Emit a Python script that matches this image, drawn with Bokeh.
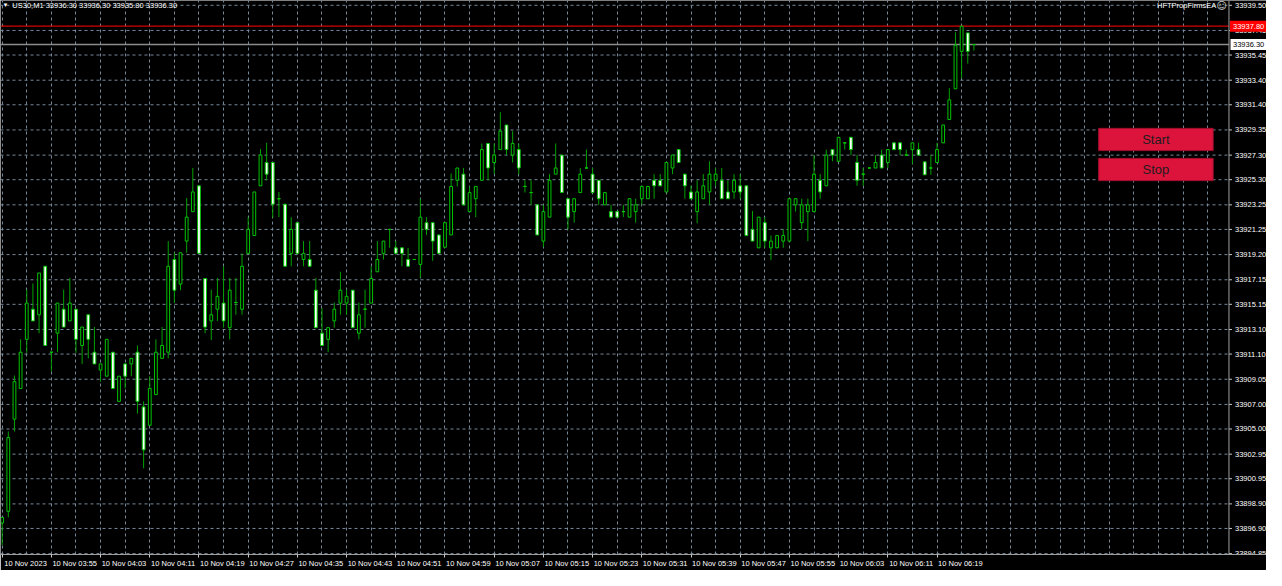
import pandas as pd
from bokeh.plotting import figure
from bokeh.models import (Range1d, FixedTicker, Span, BoxAnnotation, Label, ColumnDataSource)
from bokeh.core.properties import value
from bokeh.embed import file_html
from bokeh.resources import INLINE

# ---------------- data ----------------
symbol = "US30,M1"
start_time = "2023-11-10 03:47"

opens = [
    33897.35, 33898.30, 33905.80, 33908.30, 33912.30, 33914.75, 33914.30, 33918.25, 33911.25, 33912.80,
    33914.75, 33913.80, 33914.75, 33911.80, 33914.30, 33911.25, 33909.80, 33909.30, 33911.25, 33907.25,
    33910.30, 33910.30, 33911.25, 33906.80, 33905.30, 33907.80, 33910.75, 33911.25, 33918.80, 33916.80,
    33920.30, 33922.70, 33924.80, 33917.25, 33913.80, 33914.75, 33915.25, 33913.25, 33915.30, 33914.75,
    33919.30, 33920.75, 33924.80, 33926.70, 33926.70, 33923.75, 33923.30, 33919.30, 33921.80, 33918.80,
    33918.80, 33916.30, 33912.80, 33912.30, 33913.80, 33915.25, 33915.25, 33916.30, 33912.80, 33914.75,
    33915.25, 33917.80, 33919.30, 33921.25, 33919.75, 33919.75, 33918.80, 33918.80, 33918.40, 33921.80,
    33921.80, 33920.80, 33919.80, 33920.80, 33925.25, 33925.75, 33922.70, 33923.75, 33925.25, 33928.25,
    33926.70, 33927.75, 33929.75, 33927.30, 33927.75, 33924.75, 33924.25, 33923.25, 33920.30, 33922.25,
    33925.75, 33927.30, 33923.75, 33922.70, 33924.25, 33926.25, 33925.75, 33925.25, 33923.25, 33922.70,
    33922.70, 33922.70, 33922.25, 33922.70, 33923.75, 33923.75, 33925.25, 33925.25, 33924.30, 33926.25,
    33927.75, 33925.75, 33924.30, 33922.70, 33923.75, 33924.30, 33925.25, 33925.25, 33924.30, 33924.30,
    33924.80, 33924.80, 33921.25, 33919.75, 33921.80, 33919.75, 33919.75, 33920.30, 33920.30, 33923.25,
    33921.80, 33922.70, 33922.70, 33925.25, 33924.80, 33927.75, 33926.80, 33928.30, 33928.75, 33926.70,
    33925.75, 33926.25, 33926.25, 33927.30, 33926.70, 33928.30, 33928.30, 33927.30, 33927.75, 33927.75,
    33926.75, 33926.25, 33926.70, 33928.30, 33930.20, 33932.70, 33935.75, 33937.25, 33936.30,
]
highs = [
    33897.80, 33904.80, 33909.35, 33912.30, 33916.35, 33916.85, 33917.70, 33918.25, 33911.25, 33915.25,
    33916.35, 33917.30, 33914.75, 33913.30, 33914.30, 33913.30, 33910.30, 33912.30, 33911.25, 33909.30,
    33910.30, 33910.75, 33911.80, 33907.25, 33909.30, 33912.30, 33913.30, 33920.30, 33919.35, 33919.35,
    33923.80, 33926.25, 33924.80, 33917.25, 33916.35, 33917.30, 33918.25, 33917.30, 33917.30, 33919.30,
    33922.25, 33924.30, 33927.80, 33928.30, 33926.70, 33924.30, 33923.30, 33922.25, 33921.80, 33920.30,
    33920.30, 33917.30, 33914.85, 33913.25, 33915.30, 33917.80, 33916.35, 33916.30, 33915.30, 33916.35,
    33918.25, 33920.30, 33920.30, 33921.25, 33920.30, 33919.75, 33919.75, 33918.80, 33923.75, 33922.25,
    33921.80, 33920.80, 33921.80, 33925.80, 33926.25, 33926.25, 33924.75, 33924.75, 33928.25, 33928.25,
    33928.25, 33930.80, 33929.75, 33929.25, 33928.25, 33925.25, 33925.25, 33923.25, 33923.25, 33925.75,
    33928.25, 33927.30, 33923.75, 33923.75, 33926.25, 33927.75, 33926.25, 33925.25, 33924.25, 33923.25,
    33922.70, 33923.25, 33923.75, 33923.75, 33924.75, 33924.75, 33925.75, 33925.75, 33926.70, 33927.30,
    33927.75, 33925.75, 33924.80, 33925.25, 33925.75, 33926.80, 33926.25, 33926.25, 33925.25, 33925.75,
    33925.75, 33924.80, 33922.75, 33922.25, 33922.25, 33920.75, 33920.75, 33921.25, 33923.75, 33923.75,
    33923.75, 33923.75, 33927.30, 33925.75, 33927.75, 33927.75, 33928.75, 33928.30, 33928.75, 33927.30,
    33926.25, 33926.25, 33927.30, 33927.75, 33927.75, 33928.30, 33928.30, 33927.75, 33928.30, 33928.30,
    33926.75, 33927.30, 33928.30, 33929.75, 33932.75, 33937.30, 33937.80, 33937.25, 33936.30,
]
lows = [
    33895.55, 33897.80, 33904.80, 33908.30, 33911.20, 33913.80, 33912.80, 33911.80, 33909.70, 33911.25,
    33913.30, 33913.80, 33911.20, 33910.30, 33910.75, 33910.30, 33908.85, 33909.30, 33908.30, 33907.25,
    33908.30, 33909.30, 33906.25, 33901.80, 33905.30, 33907.80, 33910.75, 33910.75, 33915.25, 33916.30,
    33919.35, 33922.70, 33919.30, 33912.80, 33912.25, 33913.80, 33913.25, 33912.30, 33914.30, 33914.30,
    33919.30, 33920.75, 33924.80, 33925.25, 33922.20, 33922.25, 33918.25, 33918.25, 33919.30, 33918.25,
    33918.25, 33913.25, 33911.80, 33911.25, 33913.25, 33914.30, 33914.30, 33913.25, 33912.30, 33913.25,
    33915.25, 33917.80, 33918.80, 33919.75, 33919.30, 33918.25, 33918.25, 33918.80, 33917.30, 33920.80,
    33918.70, 33919.30, 33919.80, 33920.80, 33924.75, 33923.25, 33922.70, 33922.25, 33925.25, 33925.25,
    33925.75, 33927.75, 33927.30, 33926.70, 33925.75, 33924.25, 33923.25, 33920.80, 33919.80, 33922.25,
    33925.75, 33924.25, 33921.25, 33921.80, 33924.25, 33926.25, 33924.25, 33923.25, 33923.25, 33922.25,
    33922.25, 33922.25, 33922.25, 33921.80, 33923.25, 33923.75, 33923.75, 33924.80, 33924.30, 33925.75,
    33926.70, 33923.75, 33923.75, 33921.75, 33923.75, 33923.25, 33924.80, 33923.75, 33923.75, 33923.75,
    33923.75, 33920.75, 33920.30, 33919.75, 33919.75, 33918.75, 33919.75, 33919.75, 33920.30, 33922.70,
    33921.25, 33920.30, 33922.70, 33923.75, 33924.80, 33926.80, 33926.80, 33927.75, 33927.30, 33924.80,
    33924.80, 33926.25, 33926.25, 33926.25, 33926.25, 33927.75, 33927.30, 33927.30, 33926.60, 33927.30,
    33925.70, 33925.70, 33926.70, 33928.30, 33930.20, 33932.70, 33933.55, 33934.75, 33935.80,
]
closes = [
    33897.80, 33904.30, 33908.85, 33911.25, 33915.25, 33913.80, 33917.70, 33911.80, 33911.25, 33915.25,
    33913.30, 33915.25, 33912.30, 33913.30, 33912.30, 33910.30, 33910.30, 33912.30, 33908.30, 33909.30,
    33909.30, 33910.75, 33907.25, 33903.30, 33908.30, 33911.25, 33911.80, 33918.25, 33916.30, 33919.35,
    33922.25, 33924.30, 33919.30, 33913.30, 33914.30, 33915.80, 33913.80, 33916.30, 33915.30, 33918.25,
    33921.25, 33924.30, 33927.30, 33925.75, 33923.30, 33923.75, 33918.25, 33921.25, 33919.30, 33919.30,
    33918.25, 33913.25, 33911.80, 33913.25, 33914.75, 33916.30, 33915.80, 33913.25, 33914.30, 33914.75,
    33917.25, 33918.80, 33920.30, 33921.25, 33919.30, 33919.30, 33918.25, 33918.80, 33922.25, 33921.25,
    33920.30, 33919.30, 33921.80, 33924.75, 33926.25, 33923.25, 33924.25, 33924.75, 33927.75, 33926.25,
    33927.30, 33929.25, 33927.75, 33928.25, 33926.25, 33924.75, 33924.25, 33920.80, 33922.70, 33925.25,
    33926.25, 33924.25, 33922.25, 33923.75, 33925.75, 33926.25, 33924.25, 33923.75, 33924.25, 33922.25,
    33922.25, 33922.70, 33923.75, 33923.25, 33924.75, 33924.75, 33924.80, 33924.80, 33926.70, 33927.30,
    33926.70, 33924.80, 33923.75, 33924.30, 33924.80, 33925.75, 33925.75, 33923.75, 33923.75, 33925.25,
    33924.30, 33920.75, 33920.30, 33922.25, 33920.30, 33920.30, 33920.75, 33920.75, 33923.75, 33923.75,
    33923.25, 33923.25, 33925.75, 33924.30, 33927.30, 33927.30, 33928.75, 33928.30, 33927.75, 33925.25,
    33925.75, 33926.25, 33926.70, 33926.25, 33927.75, 33927.75, 33927.75, 33927.30, 33928.30, 33927.30,
    33925.70, 33926.25, 33927.75, 33929.75, 33931.80, 33936.25, 33937.80, 33935.75, 33936.30,
]
price_ticks = [33939.50, 33937.45, 33935.45, 33933.40, 33931.40, 33929.35, 33927.30, 33925.30,
               33923.25, 33921.25, 33919.20, 33917.15, 33915.15, 33913.10, 33911.10, 33909.05,
               33907.00, 33905.00, 33902.95, 33900.95, 33898.90, 33896.90, 33894.85]
ask_price = 33937.80
bid_price = 33936.30
button_labels = ["Start", "Stop"]
ea_name = "HFTPropFirmsEA"

# ---------------- styles ----------------
BG = "black"
WICK = "#00a200"
OUTLINE = "#00c400"
GRID = "#778899"
AXIS = "#a0a0a0"
FONT = "Liberation Sans"
FS = "7.5px"

n = len(opens)
times = pd.date_range(start_time, periods=n, freq="min")
label_pos = list(range(0, n, 8))
LABEL_SHIFT = 3.8   # time labels start at their bar (MT4 style): centre them right of the tick
label_centres = [k + LABEL_SHIFT for k in label_pos]
label_text = {}
for k, cpos in zip(label_pos, label_centres):
    t = times[k]
    label_text[cpos] = t.strftime("%d %b %Y") if k == 0 else t.strftime("%d %b %H:%M")

# view: chart area spans bars X0..X1; the price scale strip (38 of 1282 px) lies right of X1
W, H = 1266, 570
X0, X1 = -0.27, 199.47
XE = X0 + (X1 - X0) * 1282.0 / 1244.0
Y0, Y1 = 33894.78, 33939.89
DXP = (XE - X0) / W          # bar units per screen pixel

p = figure(width=W, height=H, x_range=Range1d(X0, XE), y_range=Range1d(Y0, Y1),
           y_axis_location=None, toolbar_location=None, output_backend="svg",
           background_fill_color=BG, border_fill_color=BG,
           min_border_left=0, min_border_top=0, min_border_right=0, min_border_bottom=14)
p.outline_line_color = None

# vertical grid (every 4 bars)
p.xgrid.ticker = FixedTicker(ticks=list(range(0, 200, 4)))
p.xgrid.grid_line_color = GRID
p.xgrid.grid_line_dash = "3 3"
p.ygrid.visible = False

# horizontal grid at the price ticks, stopping at the price scale
gsrc = ColumnDataSource(dict(y=price_ticks, lab=["%.2f" % v for v in price_ticks]))
p.segment(x0=X0, x1=X1, y0="y", y1="y", source=gsrc, line_color=GRID, line_dash="3 3",
          line_width=1)

# x axis: labels centred right of the bar tick, tick marks drawn as minor ticks at the bars
xax = p.xaxis[0]
xax.ticker = FixedTicker(ticks=label_centres, minor_ticks=label_pos)
xax.major_label_overrides = label_text
xax.major_label_text_color = "white"
xax.major_label_text_font = FONT
xax.major_label_text_font_size = FS
xax.axis_line_color = AXIS
xax.major_tick_line_color = None
xax.major_tick_out = 3
xax.major_tick_in = 0
xax.minor_tick_line_color = "#c8c8c8"
xax.minor_tick_out = 3
xax.minor_tick_in = 0
xax.major_label_standoff = 1

# left border and price-scale border
p.add_layout(Span(location=X0, dimension="height", line_color=AXIS, line_width=1))
p.add_layout(Span(location=X1, dimension="height", line_color=AXIS, line_width=1))

# price lines
p.segment(x0=X0, x1=X1, y0=ask_price, y1=ask_price, line_color="#d40000", line_width=1.2)
p.segment(x0=X0, x1=X1, y0=bid_price, y1=bid_price, line_color="#8c8c8c", line_width=1.5)

# candles
idx = list(range(n))
top = [max(o, c) for o, c in zip(opens, closes)]
bot = [min(o, c) for o, c in zip(opens, closes)]
fill = ["white" if c < o else "black" for o, c in zip(opens, closes)]
src = ColumnDataSource(dict(x=idx, o=opens, h=highs, l=lows, c=closes, top=top, bottom=bot, fill=fill))
BW = 0.45
p.segment(x0="x", y0="l", x1="x", y1="h", source=src, line_color=WICK, line_width=1)
p.vbar(x="x", top="top", bottom="bottom", width=BW, fill_color="fill", line_color=OUTLINE,
       line_width=1, source=src)
dj = [i for i in idx if opens[i] == closes[i]]
dsrc = ColumnDataSource(dict(x0=[i - BW / 2 for i in dj], x1=[i + BW / 2 for i in dj],
                             y=[opens[i] for i in dj]))
p.segment(x0="x0", y0="y", x1="x1", y1="y", source=dsrc, line_color=OUTLINE, line_width=1)

# price scale: tick marks + labels
p.segment(x0=X1, x1=X1 + 3 * DXP, y0="y", y1="y", source=gsrc, line_color="#c8c8c8", line_width=1)
p.text(x=X1 + 6 * DXP, y="y", text="lab", source=gsrc, text_color="white",
       text_font=value(FONT), text_font_size=value(FS), text_align="left", text_baseline="middle")

# price tags on the scale: ask (red) and bid (white)
tags = ColumnDataSource(dict(y=[ask_price, bid_price], lab=["%.2f" % ask_price, "%.2f" % bid_price],
                             x=[X1 + 19.5 * DXP, X1 + 19.5 * DXP], w=[37, 36],
                             bg=["#ff0000", "white"], fg=["white", "black"]))
p.rect(x="x", y="y", width="w", height=11, width_units="screen", height_units="screen",
       fill_color="bg", line_color=None, source=tags)
p.text(x=X1 + 4 * DXP, y="y", text="lab", text_color="fg", source=tags,
       text_font=value(FONT), text_font_size=value(FS), text_align="left", text_baseline="middle")

# helpers to place chart decorations by their pixel position in the reference chart window
def fx(px):
    return X0 + (X1 - X0) * px / 1244.0

def fy(py):
    return Y1 - (Y1 - Y0) * py / 572.0

# header texts
hdr = "%s  %.2f %.2f %.2f %.2f" % (symbol, opens[-1], highs[-1], lows[-1], closes[-1])
p.add_layout(Label(x=fx(2), y=fy(5), text="▼", text_color="white", text_font_size="6px",
                   text_baseline="middle", text_font=FONT))
p.add_layout(Label(x=fx(12), y=fy(5), text=hdr, text_color="white", text_font_size=FS,
                   text_baseline="middle", text_font=FONT))
p.add_layout(Label(x=fx(1231), y=fy(5), text=ea_name, text_color="white", text_font_size=FS,
                   text_baseline="middle", text_align="right", text_font=FONT))
p.add_layout(Label(x=fx(1236.5), y=fy(5), text="☺", text_color="#d0d0d0", text_font_size="10px",
                   text_baseline="middle", text_align="center", text_font="DejaVu Sans"))

# buttons
for k, lab in enumerate(button_labels):
    t_px = 132 + 31 * k
    p.add_layout(BoxAnnotation(left=fx(1112), right=fx(1228), top=fy(t_px), bottom=fy(t_px + 23),
                               fill_color="#dc143c", fill_alpha=1.0, line_color="#9e0f2c",
                               line_width=1, line_alpha=1.0))
    p.add_layout(Label(x=fx(1170), y=fy(t_px + 11.5), text=lab, text_color="#1c1c1c",
                       text_font_size="13px", text_font=FONT, text_align="center",
                       text_baseline="middle"))

open("out.html", "w").write(file_html(p, INLINE))
